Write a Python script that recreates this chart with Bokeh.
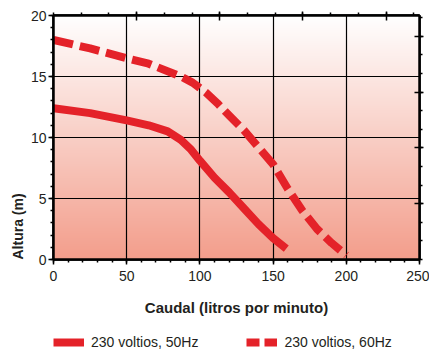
import numpy as np
from bokeh.plotting import figure
from bokeh.layouts import column
from bokeh.models import (Range1d, LinearAxis, FixedTicker, Legend, LegendItem,
                          Title, Grid)
from bokeh.embed import file_html
from bokeh.resources import INLINE

# ---- data ----
flow_50 = [0, 25, 50, 65, 78, 87, 94, 100, 110, 120, 130, 140, 150, 159]
head_50 = [12.4, 12.0, 11.4, 11.0, 10.5, 9.8, 9.0, 8.1, 6.7, 5.5, 4.2, 2.9, 1.75, 0.9]

flow_60 = [0, 25, 50, 65, 87, 95, 104, 112, 120, 130, 140, 150, 160, 170, 180, 190, 200]
head_60 = [18.0, 17.3, 16.5, 16.05, 15.0, 14.5, 13.7, 12.8, 11.8, 10.6, 9.2, 7.8, 5.8, 4.0, 2.5, 1.35, 0.35]

x_ticks = [0, 50, 100, 150, 200, 250]
y_ticks = [0, 5, 10, 15, 20]
gpm_ticks = [15, 30, 45, 60]
ft_ticks = [15, 30, 45, 60]
label_50 = "230 voltios, 50Hz"
label_60 = "230 voltios, 60Hz"
x_title = "Caudal (litros por minuto)"
y_title = "Altura (m)"

RED = "#e42229"
FONT = "Liberation Sans"
TXT = "#231f20"

p = figure(width=429, height=331, output_backend="svg", toolbar_location=None,
           x_range=Range1d(0, 250), y_range=Range1d(0, 20),
           min_border_left=53, min_border_top=15, min_border_bottom=72,
           min_border_right=10, x_axis_location=None, y_axis_location=None)
p.background_fill_color = "white"
p.border_fill_color = "white"
p.outline_line_color = "black"
p.outline_line_width = 2.5
p.xgrid.visible = False
p.ygrid.visible = False

# gradient background (white top -> salmon bottom)
n = 256
t = np.linspace(0, 1, n)  # 0 bottom, 1 top
top = np.array([255, 255, 255])
bot = np.array([243, 158, 140])
rgb = (bot[None, :] * (1 - t[:, None]) + top[None, :] * t[:, None]).astype(np.uint32)
img = np.empty((n, 1), dtype=np.uint32)
view = img.view(dtype=np.uint8).reshape((n, 1, 4))
view[:, 0, 0] = rgb[:, 0]
view[:, 0, 1] = rgb[:, 1]
view[:, 0, 2] = rgb[:, 2]
view[:, 0, 3] = 255
p.image_rgba(image=[img], x=0, y=0, dw=250, dh=20, level="image")

# main axes
xaxis = LinearAxis(ticker=FixedTicker(ticks=x_ticks, minor_ticks=list(range(0, 251, 10))))
yaxis = LinearAxis(ticker=FixedTicker(ticks=y_ticks, minor_ticks=list(range(0, 21))))
for ax in (xaxis, yaxis):
    ax.axis_line_width = 2.5
    ax.axis_line_color = "black"
    ax.major_tick_line_width = 1.5
    ax.minor_tick_line_width = 1.5
    ax.major_tick_in = 0
    ax.major_tick_out = 5
    ax.minor_tick_in = 0
    ax.minor_tick_out = 3
    ax.major_label_text_font = FONT
    ax.major_label_text_font_size = "14px"
    ax.major_label_text_color = TXT
xaxis.major_label_standoff = 6
yaxis.major_label_standoff = 2
p.add_layout(xaxis, "below")
p.add_layout(yaxis, "left")

# secondary (unlabelled) axes: US gpm on top, feet on the right
p.extra_x_ranges = {"gpm": Range1d(0, 250 / 3.78541)}
p.extra_y_ranges = {"ft": Range1d(0, 20 / 0.3048)}
top_ax = LinearAxis(x_range_name="gpm",
                    ticker=FixedTicker(ticks=gpm_ticks, minor_ticks=list(range(0, 66, 5))))
right_ax = LinearAxis(y_range_name="ft",
                      ticker=FixedTicker(ticks=ft_ticks, minor_ticks=list(range(0, 66, 5))))
for ax, tks in ((top_ax, gpm_ticks), (right_ax, ft_ticks)):
    ax.axis_line_width = 2.5
    ax.axis_line_color = "black"
    ax.major_tick_line_width = 1.5
    ax.minor_tick_line_width = 1.5
    ax.major_tick_in = 5
    ax.major_tick_out = 4
    ax.minor_tick_in = 0
    ax.minor_tick_out = 3
    ax.major_label_overrides = {v: "" for v in tks}
    ax.major_label_text_font_size = "1px"
    ax.major_label_standoff = 0
p.add_layout(top_ax, "above")
p.add_layout(right_ax, "right")

p.add_layout(Grid(dimension=0, ticker=FixedTicker(ticks=x_ticks), grid_line_color="black",
                  grid_line_width=1.2))
p.add_layout(Grid(dimension=1, ticker=FixedTicker(ticks=y_ticks), grid_line_color="black",
                  grid_line_width=1.2))

# curves
p.line(flow_50, head_50, line_color=RED, line_width=8, line_join="round", line_cap="butt")
p.line(flow_60, head_60, line_color=RED, line_width=8, line_dash="20 7", line_join="round")

# axis titles
p.add_layout(Title(text=x_title, align="center", text_font=FONT, text_font_size="15px",
                   text_font_style="bold", text_color=TXT, standoff=26, offset=-4), "below")
p.add_layout(Title(text=y_title, align="left", text_font=FONT, text_font_size="14px",
                   text_font_style="bold", text_color=TXT, standoff=4), "left")

# legend strip below the chart (same series, drawn out of view, only the legend shows)
lf = figure(width=429, height=21, output_backend="svg", toolbar_location=None,
            x_range=Range1d(-1000, -999), y_range=Range1d(0, 20),
            min_border=0, x_axis_location=None, y_axis_location=None)
lf.outline_line_color = None
lf.grid.visible = False
lf.background_fill_color = "white"
lf.border_fill_color = "white"
l50 = lf.line(flow_50, head_50, line_color=RED, line_width=8)
l60 = lf.line(flow_60, head_60, line_color=RED, line_width=8, line_dash="13 5")
legend = Legend(items=[LegendItem(label=label_50, renderers=[l50]),
                       LegendItem(label=label_60, renderers=[l60])],
                location="center_left", orientation="horizontal",
                glyph_width=31, glyph_height=12, label_height=12, label_standoff=7,
                spacing=48, padding=0, margin=0,
                background_fill_alpha=0, border_line_alpha=0,
                label_text_font=FONT, label_text_font_size="14px", label_text_color=TXT)
lf.add_layout(legend)

layout = column(p, lf, spacing=0)
open("out.html", "w").write(file_html(layout, INLINE))
